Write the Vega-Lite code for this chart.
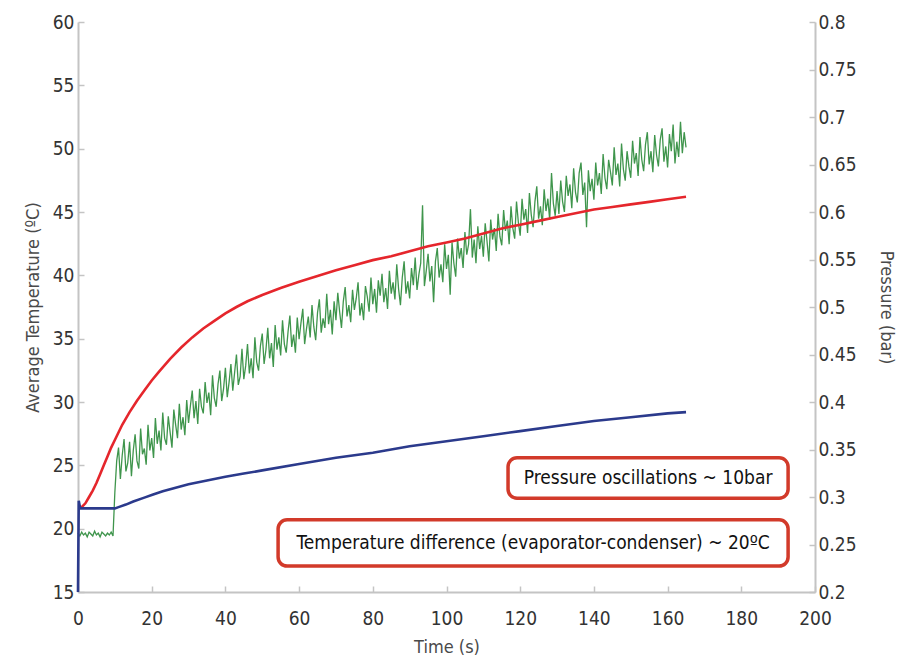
{
  "$schema": "https://vega.github.io/schema/vega-lite/v6.json",
  "width": 737,
  "height": 570,
  "autosize": "none",
  "padding": {"left": 78, "top": 22, "right": 90, "bottom": 74},
  "background": "white",
  "config": {
    "view": {"stroke": null},
    "font": "DejaVu Sans Condensed",
    "axis": {
      "labelFont": "DejaVu Sans Condensed",
      "titleFont": "DejaVu Sans Condensed",
      "labelFontSize": 19,
      "labelColor": "#333333",
      "labelFlush": false,
      "labelOverlap": false,
      "titleFontSize": 18,
      "titleFontWeight": "normal",
      "titleColor": "#4a4a4a",
      "domainColor": "#c4c4c4",
      "domainWidth": 2,
      "tickColor": "#c4c4c4",
      "tickWidth": 1.5,
      "tickSize": -6,
      "grid": false
    }
  },
  "datasets": {
    "pressure": [
      {"t":0,"p":0.262},{"t":0.5,"p":0.259},{"t":1,"p":0.263},{"t":1.5,"p":0.26},{"t":2,"p":0.262},{"t":2.5,"p":0.258},{"t":3,"p":0.263},{"t":3.5,"p":0.261},{"t":4,"p":0.259},{"t":4.5,"p":0.264},
      {"t":5,"p":0.26},{"t":5.5,"p":0.262},{"t":6,"p":0.258},{"t":6.5,"p":0.263},{"t":7,"p":0.261},{"t":7.5,"p":0.259},{"t":8,"p":0.262},{"t":8.5,"p":0.26},{"t":9,"p":0.263},{"t":9.5,"p":0.259},
      {"t":10,"p":0.305},{"t":10.5,"p":0.338},{"t":11,"p":0.352},{"t":11.5,"p":0.319},{"t":12,"p":0.344},{"t":12.5,"p":0.361},{"t":13,"p":0.327},{"t":13.5,"p":0.336},{"t":14,"p":0.358},{"t":14.5,"p":0.322},
      {"t":15,"p":0.349},{"t":15.5,"p":0.366},{"t":16,"p":0.338},{"t":16.5,"p":0.33},{"t":17,"p":0.372},{"t":17.5,"p":0.345},{"t":18,"p":0.351},{"t":18.5,"p":0.334},{"t":19,"p":0.376},{"t":19.5,"p":0.349},
      {"t":20,"p":0.362},{"t":20.5,"p":0.341},{"t":21,"p":0.383},{"t":21.5,"p":0.356},{"t":22,"p":0.37},{"t":22.5,"p":0.349},{"t":23,"p":0.389},{"t":23.5,"p":0.362},{"t":24,"p":0.355},{"t":24.5,"p":0.385},
      {"t":25,"p":0.368},{"t":25.5,"p":0.352},{"t":26,"p":0.392},{"t":26.5,"p":0.376},{"t":27,"p":0.362},{"t":27.5,"p":0.398},{"t":28,"p":0.371},{"t":28.5,"p":0.384},{"t":29,"p":0.365},{"t":29.5,"p":0.402},
      {"t":30,"p":0.378},{"t":30.5,"p":0.396},{"t":31,"p":0.412},{"t":31.5,"p":0.383},{"t":32,"p":0.401},{"t":32.5,"p":0.377},{"t":33,"p":0.414},{"t":33.5,"p":0.395},{"t":34,"p":0.388},{"t":34.5,"p":0.421},
      {"t":35,"p":0.399},{"t":35.5,"p":0.41},{"t":36,"p":0.386},{"t":36.5,"p":0.428},{"t":37,"p":0.404},{"t":37.5,"p":0.395},{"t":38,"p":0.419},{"t":38.5,"p":0.433},{"t":39,"p":0.401},{"t":39.5,"p":0.414},
      {"t":40,"p":0.436},{"t":40.5,"p":0.405},{"t":41,"p":0.421},{"t":41.5,"p":0.44},{"t":42,"p":0.412},{"t":42.5,"p":0.431},{"t":43,"p":0.45},{"t":43.5,"p":0.418},{"t":44,"p":0.427},{"t":44.5,"p":0.456},
      {"t":45,"p":0.424},{"t":45.5,"p":0.438},{"t":46,"p":0.461},{"t":46.5,"p":0.43},{"t":47,"p":0.446},{"t":47.5,"p":0.425},{"t":48,"p":0.468},{"t":48.5,"p":0.442},{"t":49,"p":0.433},{"t":49.5,"p":0.459},
      {"t":50,"p":0.472},{"t":50.5,"p":0.44},{"t":51,"p":0.455},{"t":51.5,"p":0.478},{"t":52,"p":0.446},{"t":52.5,"p":0.462},{"t":53,"p":0.437},{"t":53.5,"p":0.481},{"t":54,"p":0.455},{"t":54.5,"p":0.468},
      {"t":55,"p":0.449},{"t":55.5,"p":0.486},{"t":56,"p":0.461},{"t":56.5,"p":0.452},{"t":57,"p":0.474},{"t":57.5,"p":0.491},{"t":58,"p":0.458},{"t":58.5,"p":0.471},{"t":59,"p":0.452},{"t":59.5,"p":0.489},
      {"t":60,"p":0.466},{"t":60.5,"p":0.483},{"t":61,"p":0.498},{"t":61.5,"p":0.461},{"t":62,"p":0.477},{"t":62.5,"p":0.49},{"t":63,"p":0.468},{"t":63.5,"p":0.502},{"t":64,"p":0.479},{"t":64.5,"p":0.465},
      {"t":65,"p":0.494},{"t":65.5,"p":0.508},{"t":66,"p":0.473},{"t":66.5,"p":0.488},{"t":67,"p":0.478},{"t":67.5,"p":0.514},{"t":68,"p":0.482},{"t":68.5,"p":0.497},{"t":69,"p":0.471},{"t":69.5,"p":0.506},
      {"t":70,"p":0.486},{"t":70.5,"p":0.515},{"t":71,"p":0.495},{"t":71.5,"p":0.478},{"t":72,"p":0.506},{"t":72.5,"p":0.521},{"t":73,"p":0.49},{"t":73.5,"p":0.502},{"t":74,"p":0.484},{"t":74.5,"p":0.518},
      {"t":75,"p":0.497},{"t":75.5,"p":0.509},{"t":76,"p":0.526},{"t":76.5,"p":0.491},{"t":77,"p":0.504},{"t":77.5,"p":0.486},{"t":78,"p":0.522},{"t":78.5,"p":0.511},{"t":79,"p":0.495},{"t":79.5,"p":0.531},
      {"t":80,"p":0.503},{"t":80.5,"p":0.519},{"t":81,"p":0.494},{"t":81.5,"p":0.528},{"t":82,"p":0.512},{"t":82.5,"p":0.535},{"t":83,"p":0.505},{"t":83.5,"p":0.52},{"t":84,"p":0.498},{"t":84.5,"p":0.538},
      {"t":85,"p":0.514},{"t":85.5,"p":0.526},{"t":86,"p":0.508},{"t":86.5,"p":0.545},{"t":87,"p":0.519},{"t":87.5,"p":0.502},{"t":88,"p":0.531},{"t":88.5,"p":0.548},{"t":89,"p":0.514},{"t":89.5,"p":0.527},
      {"t":90,"p":0.509},{"t":90.5,"p":0.541},{"t":91,"p":0.523},{"t":91.5,"p":0.552},{"t":92,"p":0.518},{"t":92.5,"p":0.534},{"t":93,"p":0.546},{"t":93.5,"p":0.607},{"t":94,"p":0.522},{"t":94.5,"p":0.538},
      {"t":95,"p":0.556},{"t":95.5,"p":0.527},{"t":96,"p":0.543},{"t":96.5,"p":0.505},{"t":97,"p":0.548},{"t":97.5,"p":0.562},{"t":98,"p":0.531},{"t":98.5,"p":0.545},{"t":99,"p":0.526},{"t":99.5,"p":0.566},
      {"t":100,"p":0.54},{"t":100.5,"p":0.555},{"t":101,"p":0.513},{"t":101.5,"p":0.568},{"t":102,"p":0.546},{"t":102.5,"p":0.532},{"t":103,"p":0.572},{"t":103.5,"p":0.551},{"t":104,"p":0.562},{"t":104.5,"p":0.541},
      {"t":105,"p":0.579},{"t":105.5,"p":0.555},{"t":106,"p":0.566},{"t":106.5,"p":0.603},{"t":107,"p":0.552},{"t":107.5,"p":0.571},{"t":108,"p":0.546},{"t":108.5,"p":0.585},{"t":109,"p":0.561},{"t":109.5,"p":0.575},
      {"t":110,"p":0.553},{"t":110.5,"p":0.588},{"t":111,"p":0.569},{"t":111.5,"p":0.548},{"t":112,"p":0.592},{"t":112.5,"p":0.571},{"t":113,"p":0.583},{"t":113.5,"p":0.559},{"t":114,"p":0.598},{"t":114.5,"p":0.574},
      {"t":115,"p":0.565},{"t":115.5,"p":0.602},{"t":116,"p":0.58},{"t":116.5,"p":0.591},{"t":117,"p":0.566},{"t":117.5,"p":0.606},{"t":118,"p":0.583},{"t":118.5,"p":0.572},{"t":119,"p":0.611},{"t":119.5,"p":0.589},
      {"t":120,"p":0.575},{"t":120.5,"p":0.614},{"t":121,"p":0.592},{"t":121.5,"p":0.603},{"t":122,"p":0.578},{"t":122.5,"p":0.62},{"t":123,"p":0.597},{"t":123.5,"p":0.584},{"t":124,"p":0.611},{"t":124.5,"p":0.627},
      {"t":125,"p":0.593},{"t":125.5,"p":0.606},{"t":126,"p":0.586},{"t":126.5,"p":0.624},{"t":127,"p":0.601},{"t":127.5,"p":0.614},{"t":128,"p":0.592},{"t":128.5,"p":0.641},{"t":129,"p":0.609},{"t":129.5,"p":0.596},
      {"t":130,"p":0.622},{"t":130.5,"p":0.598},{"t":131,"p":0.633},{"t":131.5,"p":0.611},{"t":132,"p":0.6},{"t":132.5,"p":0.638},{"t":133,"p":0.617},{"t":133.5,"p":0.629},{"t":134,"p":0.604},{"t":134.5,"p":0.646},
      {"t":135,"p":0.621},{"t":135.5,"p":0.61},{"t":136,"p":0.641},{"t":136.5,"p":0.652},{"t":137,"p":0.618},{"t":137.5,"p":0.631},{"t":138,"p":0.584},{"t":138.5,"p":0.644},{"t":139,"p":0.622},{"t":139.5,"p":0.635},
      {"t":140,"p":0.613},{"t":140.5,"p":0.652},{"t":141,"p":0.628},{"t":141.5,"p":0.641},{"t":142,"p":0.619},{"t":142.5,"p":0.661},{"t":143,"p":0.636},{"t":143.5,"p":0.624},{"t":144,"p":0.655},{"t":144.5,"p":0.642},
      {"t":145,"p":0.628},{"t":145.5,"p":0.668},{"t":146,"p":0.639},{"t":146.5,"p":0.651},{"t":147,"p":0.627},{"t":147.5,"p":0.672},{"t":148,"p":0.645},{"t":148.5,"p":0.633},{"t":149,"p":0.664},{"t":149.5,"p":0.648},
      {"t":150,"p":0.636},{"t":150.5,"p":0.675},{"t":151,"p":0.651},{"t":151.5,"p":0.662},{"t":152,"p":0.638},{"t":152.5,"p":0.679},{"t":153,"p":0.655},{"t":153.5,"p":0.643},{"t":154,"p":0.671},{"t":154.5,"p":0.684},
      {"t":155,"p":0.65},{"t":155.5,"p":0.664},{"t":156,"p":0.642},{"t":156.5,"p":0.681},{"t":157,"p":0.66},{"t":157.5,"p":0.648},{"t":158,"p":0.676},{"t":158.5,"p":0.688},{"t":159,"p":0.653},{"t":159.5,"p":0.669},
      {"t":160,"p":0.647},{"t":160.5,"p":0.682},{"t":161,"p":0.664},{"t":161.5,"p":0.692},{"t":162,"p":0.651},{"t":162.5,"p":0.674},{"t":163,"p":0.658},{"t":163.5,"p":0.695},{"t":164,"p":0.662},{"t":164.5,"p":0.684},
      {"t":165,"p":0.668}
    ],
    "temperature": [
      {"t":0,"T":21.7,"s":"Evaporator"},{"t":1,"T":21.7,"s":"Evaporator"},{"t":2,"T":22.0,"s":"Evaporator"},{"t":3,"T":22.5,"s":"Evaporator"},{"t":4,"T":23.0,"s":"Evaporator"},
      {"t":5,"T":23.6,"s":"Evaporator"},{"t":6,"T":24.3,"s":"Evaporator"},{"t":7,"T":25.0,"s":"Evaporator"},{"t":8,"T":25.7,"s":"Evaporator"},{"t":9,"T":26.4,"s":"Evaporator"},
      {"t":10,"T":27.0,"s":"Evaporator"},{"t":12,"T":28.2,"s":"Evaporator"},{"t":14,"T":29.2,"s":"Evaporator"},{"t":16,"T":30.1,"s":"Evaporator"},{"t":18,"T":30.9,"s":"Evaporator"},
      {"t":20,"T":31.7,"s":"Evaporator"},{"t":22,"T":32.4,"s":"Evaporator"},{"t":25,"T":33.4,"s":"Evaporator"},{"t":28,"T":34.3,"s":"Evaporator"},{"t":31,"T":35.1,"s":"Evaporator"},
      {"t":34,"T":35.8,"s":"Evaporator"},{"t":37,"T":36.4,"s":"Evaporator"},{"t":40,"T":37.0,"s":"Evaporator"},{"t":43,"T":37.5,"s":"Evaporator"},{"t":46,"T":37.95,"s":"Evaporator"},
      {"t":50,"T":38.45,"s":"Evaporator"},{"t":55,"T":39.0,"s":"Evaporator"},{"t":60,"T":39.5,"s":"Evaporator"},{"t":65,"T":39.95,"s":"Evaporator"},{"t":70,"T":40.4,"s":"Evaporator"},
      {"t":75,"T":40.8,"s":"Evaporator"},{"t":80,"T":41.2,"s":"Evaporator"},{"t":85,"T":41.5,"s":"Evaporator"},{"t":90,"T":41.9,"s":"Evaporator"},{"t":95,"T":42.3,"s":"Evaporator"},
      {"t":100,"T":42.6,"s":"Evaporator"},{"t":105,"T":42.9,"s":"Evaporator"},{"t":110,"T":43.3,"s":"Evaporator"},{"t":115,"T":43.7,"s":"Evaporator"},{"t":120,"T":44.0,"s":"Evaporator"},
      {"t":125,"T":44.3,"s":"Evaporator"},{"t":130,"T":44.6,"s":"Evaporator"},{"t":135,"T":44.9,"s":"Evaporator"},{"t":140,"T":45.2,"s":"Evaporator"},{"t":145,"T":45.4,"s":"Evaporator"},
      {"t":150,"T":45.6,"s":"Evaporator"},{"t":155,"T":45.8,"s":"Evaporator"},{"t":160,"T":46.0,"s":"Evaporator"},{"t":165,"T":46.2,"s":"Evaporator"},
      {"t":0,"T":15.0,"s":"Condenser"},{"t":0.2,"T":22.2,"s":"Condenser"},{"t":0.6,"T":21.6,"s":"Condenser"},{"t":10,"T":21.6,"s":"Condenser"},{"t":11,"T":21.7,"s":"Condenser"},
      {"t":13,"T":21.9,"s":"Condenser"},{"t":15,"T":22.15,"s":"Condenser"},{"t":18,"T":22.45,"s":"Condenser"},{"t":20,"T":22.65,"s":"Condenser"},{"t":23,"T":22.95,"s":"Condenser"},
      {"t":26,"T":23.2,"s":"Condenser"},{"t":30,"T":23.5,"s":"Condenser"},{"t":35,"T":23.8,"s":"Condenser"},{"t":40,"T":24.1,"s":"Condenser"},{"t":45,"T":24.35,"s":"Condenser"},
      {"t":50,"T":24.6,"s":"Condenser"},{"t":60,"T":25.1,"s":"Condenser"},{"t":70,"T":25.6,"s":"Condenser"},{"t":80,"T":26.0,"s":"Condenser"},{"t":90,"T":26.5,"s":"Condenser"},
      {"t":100,"T":26.9,"s":"Condenser"},{"t":110,"T":27.3,"s":"Condenser"},{"t":120,"T":27.7,"s":"Condenser"},{"t":130,"T":28.1,"s":"Condenser"},{"t":140,"T":28.5,"s":"Condenser"},
      {"t":150,"T":28.8,"s":"Condenser"},{"t":160,"T":29.1,"s":"Condenser"},{"t":165,"T":29.2,"s":"Condenser"}
    ],
    "notes": [
      {"t0":116.7,"t1":192.7,"T0":22.4,"T1":25.6,"tc":154.7,"Tc":24.0,"label":"Pressure oscillations ~ 10bar"},
      {"t0":54.3,"t1":192.7,"T0":17.05,"T1":20.7,"tc":123.5,"Tc":18.85,"label":"Temperature difference (evaporator-condenser) ~ 20ºC"}
    ]
  },
  "layer": [
    {
      "data": {"name": "pressure"},
      "mark": {"type": "line", "color": "#2a8a38", "strokeWidth": 1.3, "opacity": 0.9},
      "encoding": {
        "x": {
          "field": "t", "type": "quantitative",
          "scale": {"domain": [0, 200], "nice": false},
          "axis": {"title": "Time (s)", "values": [0,20,40,60,80,100,120,140,160,180,200], "labelPadding": 23, "titlePadding": 10}
        },
        "y": {
          "field": "p", "type": "quantitative",
          "scale": {"domain": [0.2, 0.8], "nice": false, "zero": false},
          "axis": {"orient": "right", "title": "Pressure (bar)", "format": "~g",
                   "values": [0.2,0.25,0.3,0.35,0.4,0.45,0.5,0.55,0.6,0.65,0.7,0.75,0.8],
                   "labelPadding": 9, "titlePadding": 20}
        }
      }
    },
    {
      "layer": [
        {
          "data": {"name": "temperature"},
          "mark": {"type": "line", "strokeWidth": 2.6},
          "encoding": {
            "x": {"field": "t", "type": "quantitative"},
            "y": {
              "field": "T", "type": "quantitative",
              "scale": {"domain": [15, 60], "nice": false, "zero": false},
              "axis": {"orient": "left", "title": "Average Temperature (ºC)",
                       "values": [15,20,25,30,35,40,45,50,55,60], "labelPadding": 10, "titlePadding": 10}
            },
            "color": {
              "field": "s", "type": "nominal",
              "scale": {"domain": ["Evaporator", "Condenser"], "range": ["#e5262c", "#2b3a8c"]},
              "legend": null
            }
          }
        },
        {
          "data": {"name": "notes"},
          "mark": {"type": "rect", "fill": "white", "stroke": "#d23a2a", "strokeWidth": 3.5, "cornerRadius": 9},
          "encoding": {
            "x": {"field": "t0", "type": "quantitative"},
            "x2": {"field": "t1"},
            "y": {"field": "T0", "type": "quantitative", "axis": {"orient": "left", "title": "Average Temperature (ºC)",
                       "values": [15,20,25,30,35,40,45,50,55,60], "labelPadding": 10, "titlePadding": 10}},
            "y2": {"field": "T1"}
          }
        },
        {
          "data": {"name": "notes"},
          "mark": {"type": "text", "font": "DejaVu Sans Condensed", "fontSize": 19, "color": "#111111", "align": "center", "baseline": "middle"},
          "encoding": {
            "x": {"field": "tc", "type": "quantitative"},
            "y": {"field": "Tc", "type": "quantitative", "axis": {"orient": "left", "title": "Average Temperature (ºC)",
                       "values": [15,20,25,30,35,40,45,50,55,60], "labelPadding": 10, "titlePadding": 10}},
            "text": {"field": "label", "type": "nominal"}
          }
        }
      ]
    }
  ],
  "resolve": {"scale": {"y": "independent"}, "axis": {"y": "independent"}}
}
